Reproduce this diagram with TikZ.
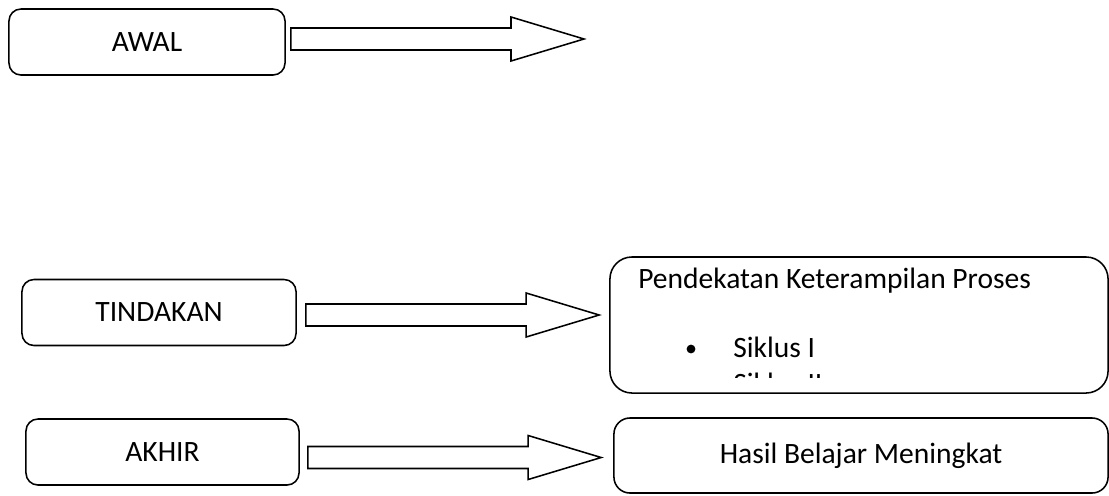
\documentclass[tikz,border=0pt]{standalone}
\usepackage{fontspec}
\setmainfont{Carlito}
\usetikzlibrary{calc}
\tikzstyle{stage} = [rectangle, rounded corners=0.3cm, minimum width=6.85cm, minimum height=1.65cm, text centered, draw=black, line width=1.1pt, font=\fontsize{21}{25}\selectfont]
\tikzstyle{result} = [rectangle, rounded corners=0.4cm, text centered, draw=black, line width=1.1pt, font=\fontsize{21}{25}\selectfont]
\tikzstyle{txt} = [anchor=base west, inner sep=0pt, font=\fontsize{21}{25}\selectfont]
\tikzstyle{dot} = [circle, fill=black, inner sep=0pt, minimum size=0.22cm]
\tikzstyle{blockarrow} = [draw=black, line width=1.1pt, fill=white, line join=miter]
% hollow block arrow from #1 to #2
\newcommand{\blockarrow}[2]{%
  \draw[blockarrow] let \p1=(#1), \p2=(#2) in
    (\x1,\y1+0.275cm) -- (\x2-1.825cm,\y1+0.275cm) -- (\x2-1.825cm,\y1+0.55cm)
    -- (\x2,\y1) -- (\x2-1.825cm,\y1-0.55cm) -- (\x2-1.825cm,\y1-0.275cm)
    -- (\x1,\y1-0.275cm) -- cycle;}

\begin{document}
\begin{tikzpicture}[x=0.025cm, y=-0.025cm]
\useasboundingbox (0,0) rectangle (1109,495);
\node (awal) [stage, minimum width=6.9cm] at (147,42) {AWAL};
\node (tindakan) [stage] at (159,312.5) {TINDAKAN};
\node (akhir) [stage, minimum width=6.825cm] at (162.5,452) {AKHIR};
\node (proses) [result, rounded corners=0.55cm, minimum width=12.45cm, minimum height=3.4cm] at (859,325) {};
\node (hasil) [result, minimum width=12.35cm, minimum height=1.875cm] at (861,455.5) {Hasil Belajar Meningkat};

\node (judul) [txt] at (638,288) {Pendekatan Keterampilan Proses};
\node (titik1) [dot] at (691,349) {};
\node (siklus1) [txt] at (733,357) {Siklus I};
\begin{scope}
  \clip (612,258) rectangle (1106,377);
  \node (titik2) [dot] at (691,385) {};
  \node (siklus2) [txt] at (733,393) {Siklus II};
\end{scope}

\coordinate (awalend) at (584,39);
\coordinate (awalstart) at ($(awal.east)+(5,-3)$);
\coordinate (tindstart) at ($(tindakan.east)+(9,2.5)$);
\coordinate (tindend) at ($(proses.west)+(-10,-10)$);
\coordinate (akhirstart) at ($(akhir.east)+(8,5.5)$);
\coordinate (akhirend) at ($(hasil.west)+(-12,2)$);
\blockarrow{awalstart}{awalend}
\blockarrow{tindstart}{tindend}
\blockarrow{akhirstart}{akhirend}
\end{tikzpicture}
\end{document}
